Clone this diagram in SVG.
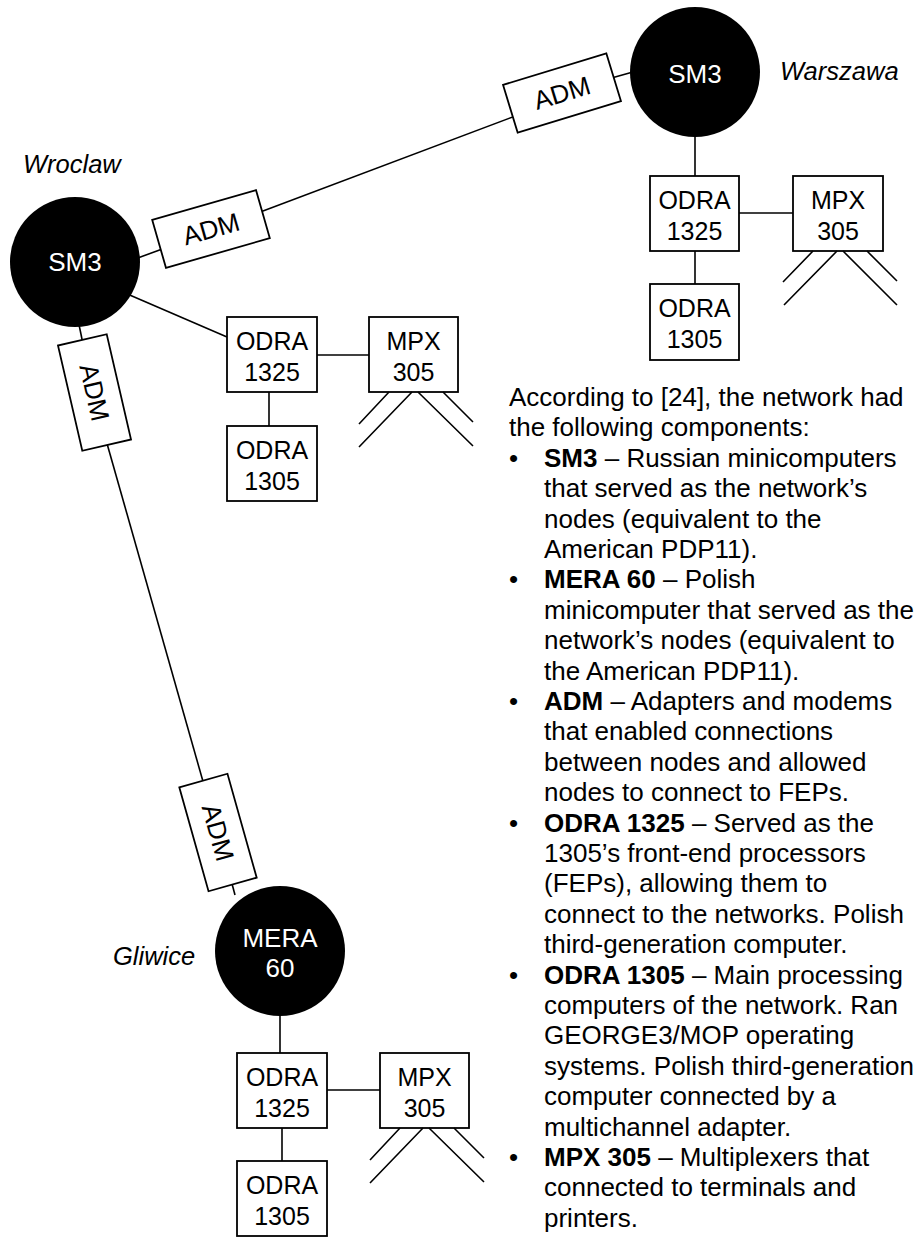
<svg xmlns="http://www.w3.org/2000/svg" width="920" height="1256" viewBox="0 0 920 1256">
<style>
  text { font-family: "Liberation Sans", Arial, sans-serif; }
  .box { fill: #fff; stroke: #000; stroke-width: 1.8; }
  .hub { fill: #000; }
  .ln { stroke: #000; stroke-width: 1.6; fill: none; }
  .bt { font-size: 25px; fill: #000; text-anchor: middle; }
  .wt { font-size: 26px; fill: #fff; text-anchor: middle; }
  .adm { font-size: 26px; fill: #000; text-anchor: middle; }
  .city { font-size: 25.5px; font-style: italic; fill: #000; }
  .para { font-size: 26px; fill: #000; }
  .b { font-weight: bold; }
</style>
<rect width="920" height="1256" fill="#fff"/>
<g id="connectors" class="ln">
  <line x1="135" y1="259" x2="165" y2="248"/>
  <line x1="255" y1="214" x2="518" y2="115"/>
  <line x1="608" y1="79" x2="640" y2="70"/>
  <line x1="77" y1="315" x2="83" y2="344"/>
  <line x1="106" y1="440" x2="204" y2="785"/>
  <line x1="231" y1="880" x2="235" y2="895"/>
  <line x1="695" y1="130" x2="695" y2="176"/>
  <line x1="739" y1="213" x2="793" y2="213"/>
  <line x1="695" y1="251" x2="695" y2="284"/>
  <line x1="125" y1="293" x2="227" y2="337"/>
  <line x1="317" y1="355" x2="369" y2="355"/>
  <line x1="269" y1="392" x2="269" y2="426"/>
  <line x1="280" y1="1010" x2="280" y2="1053"/>
  <line x1="327" y1="1090" x2="380" y2="1090"/>
  <line x1="282" y1="1128" x2="282" y2="1161"/>
</g>
<g id="warszawa-sm3">
  <circle class="hub" cx="695" cy="72" r="65"/>
  <text class="wt" x="695" y="83">SM3</text>
  <text class="city" x="780" y="80">Warszawa</text>
</g>
<g id="wroclaw-sm3">
  <circle class="hub" cx="75" cy="262" r="65"/>
  <text class="wt" x="75" y="271">SM3</text>
  <text class="city" x="23" y="173">Wroclaw</text>
</g>
<g id="gliwice-mera60">
  <circle class="hub" cx="280" cy="951" r="65"/>
  <text class="wt" x="280" y="947">MERA</text>
  <text class="wt" x="280" y="977">60</text>
  <text class="city" x="113" y="965">Gliwice</text>
</g>
<g id="adm-wroclaw-warszawa-1" transform="translate(211,229) rotate(-16)">
  <rect class="box" x="-54" y="-25" width="108" height="50"/>
  <text class="adm" x="0" y="9">ADM</text>
</g>
<g id="adm-wroclaw-warszawa-2" transform="translate(562,93) rotate(-17)">
  <rect class="box" x="-54" y="-25" width="108" height="50"/>
  <text class="adm" x="0" y="9">ADM</text>
</g>
<g id="adm-wroclaw-gliwice-1" transform="translate(94.5,392.5) rotate(77)">
  <rect class="box" x="-54" y="-25" width="108" height="50"/>
  <text class="adm" x="0" y="9">ADM</text>
</g>
<g id="adm-wroclaw-gliwice-2" transform="translate(218,832.5) rotate(74.3)">
  <rect class="box" x="-54" y="-25" width="108" height="50"/>
  <text class="adm" x="0" y="9">ADM</text>
</g>
<g id="warszawa-odra1325">
  <rect class="box" x="650" y="176" width="89" height="75"/>
  <text class="bt" x="694.5" y="209">ODRA</text>
  <text class="bt" x="694.5" y="240">1325</text>
</g>
<g id="warszawa-mpx305">
  <rect class="box" x="793" y="176" width="90" height="75"/>
  <text class="bt" x="838" y="209">MPX</text>
  <text class="bt" x="838" y="240">305</text>
  <path class="ln" d="M813,251 L783,282 M837,251 L784,305 M843,251 L897,305 M867,251 L897,281"/>
</g>
<g id="warszawa-odra1305">
  <rect class="box" x="650" y="284" width="89" height="76"/>
  <text class="bt" x="694.5" y="317">ODRA</text>
  <text class="bt" x="694.5" y="348">1305</text>
</g>
<g id="wroclaw-odra1325">
  <rect class="box" x="227" y="317" width="90" height="75"/>
  <text class="bt" x="272" y="350">ODRA</text>
  <text class="bt" x="272" y="381">1325</text>
</g>
<g id="wroclaw-mpx305">
  <rect class="box" x="369" y="317" width="89" height="75"/>
  <text class="bt" x="413.5" y="350">MPX</text>
  <text class="bt" x="413.5" y="381">305</text>
  <path class="ln" d="M389,392 L359,424 M412,392 L359,447 M418,392 L473,446 M443,392 L473,422"/>
</g>
<g id="wroclaw-odra1305">
  <rect class="box" x="227" y="426" width="90" height="75"/>
  <text class="bt" x="272" y="459">ODRA</text>
  <text class="bt" x="272" y="490">1305</text>
</g>
<g id="gliwice-odra1325">
  <rect class="box" x="237" y="1053" width="90" height="75"/>
  <text class="bt" x="282" y="1086">ODRA</text>
  <text class="bt" x="282" y="1117">1325</text>
</g>
<g id="gliwice-mpx305">
  <rect class="box" x="380" y="1053" width="89" height="75"/>
  <text class="bt" x="424.5" y="1086">MPX</text>
  <text class="bt" x="424.5" y="1117">305</text>
  <path class="ln" d="M400,1128 L370,1160 M423,1128 L370,1183 M429,1128 L484,1182 M454,1128 L484,1158"/>
</g>
<g id="gliwice-odra1305">
  <rect class="box" x="237" y="1161" width="90" height="75"/>
  <text class="bt" x="282" y="1194">ODRA</text>
  <text class="bt" x="282" y="1225">1305</text>
</g>
<g id="description">
  <text class="para">
    <tspan x="509" y="406">According to [24], the network had</tspan>
    <tspan x="509" y="436.4">the following components:</tspan>
  </text>
  <text class="para">
    <tspan x="509" y="466.8">•</tspan><tspan x="544" y="466.8" class="b">SM3</tspan><tspan> – Russian minicomputers</tspan>
    <tspan x="544" y="497.2">that served as the network’s</tspan>
    <tspan x="544" y="527.6">nodes (equivalent to the</tspan>
    <tspan x="544" y="558">American PDP11).</tspan>
    <tspan x="509" y="588.4">•</tspan><tspan x="544" y="588.4" class="b">MERA 60</tspan><tspan> – Polish</tspan>
    <tspan x="544" y="618.8">minicomputer that served as the</tspan>
    <tspan x="544" y="649.2">network’s nodes (equivalent to</tspan>
    <tspan x="544" y="679.6">the American PDP11).</tspan>
    <tspan x="509" y="710">•</tspan><tspan x="544" y="710" class="b">ADM</tspan><tspan> – Adapters and modems</tspan>
    <tspan x="544" y="740.4">that enabled connections</tspan>
    <tspan x="544" y="770.8">between nodes and allowed</tspan>
    <tspan x="544" y="801.2">nodes to connect to FEPs.</tspan>
    <tspan x="509" y="831.6">•</tspan><tspan x="544" y="831.6" class="b">ODRA 1325</tspan><tspan> – Served as the</tspan>
    <tspan x="544" y="862">1305’s front-end processors</tspan>
    <tspan x="544" y="892.4">(FEPs), allowing them to</tspan>
    <tspan x="544" y="922.8">connect to the networks. Polish</tspan>
    <tspan x="544" y="953.2">third-generation computer.</tspan>
    <tspan x="509" y="983.6">•</tspan><tspan x="544" y="983.6" class="b">ODRA 1305</tspan><tspan> – Main processing</tspan>
    <tspan x="544" y="1014">computers of the network. Ran</tspan>
    <tspan x="544" y="1044.4">GEORGE3/MOP operating</tspan>
    <tspan x="544" y="1074.8">systems. Polish third-generation</tspan>
    <tspan x="544" y="1105.2">computer connected by a</tspan>
    <tspan x="544" y="1135.6">multichannel adapter.</tspan>
    <tspan x="509" y="1166">•</tspan><tspan x="544" y="1166" class="b">MPX 305</tspan><tspan> – Multiplexers that</tspan>
    <tspan x="544" y="1196.4">connected to terminals and</tspan>
    <tspan x="544" y="1226.8">printers.</tspan>
  </text>
</g>
</svg>
